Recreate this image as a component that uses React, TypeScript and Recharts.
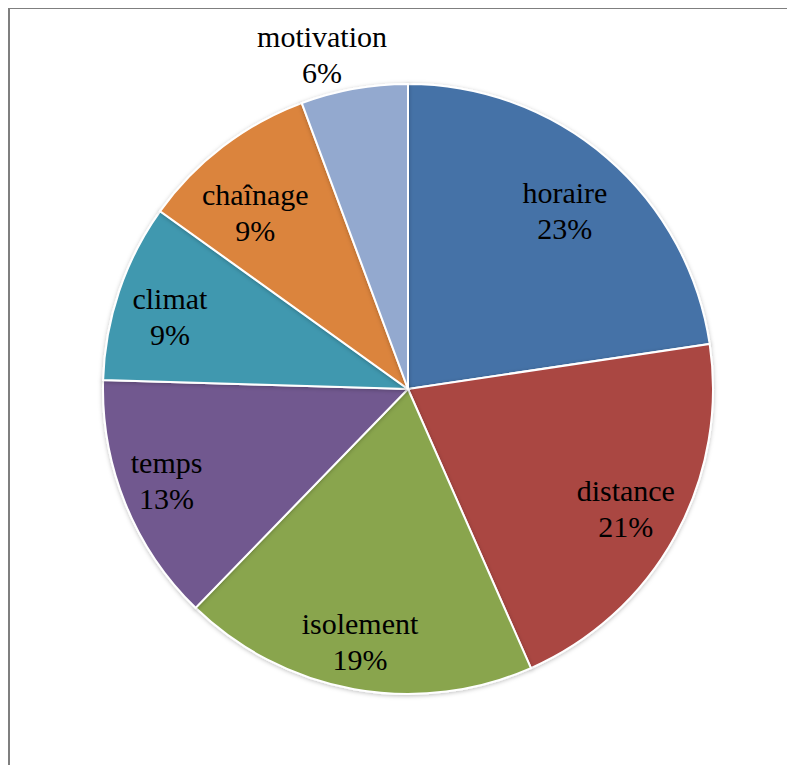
import React from "react";
import { PieChart, Pie, Cell } from "recharts";

const categories = ["horaire", "distance", "isolement", "temps", "climat", "chaînage", "motivation"];
const counts = [12, 11, 10, 7, 5, 5, 3];
const colors = ["#4572A7", "#AA4643", "#89A54E", "#71588F", "#4198AF", "#DB843D", "#93A9CF"];
// label placement (style): distance from centre as a fraction of the radius, and a small clockwise angle nudge in degrees
const labelRadius: Record<string, number> = {
  horaire: 0.78,
  distance: 0.813,
  isolement: 0.84,
  temps: 0.846,
  climat: 0.816,
  "chaînage": 0.767,
  motivation: 1.134,
};
const labelNudge: Record<string, number> = {
  horaire: 0.5,
  distance: -0.3,
  isolement: 0.6,
  temps: 1.4,
  climat: -1.7,
  "chaînage": -3.4,
  motivation: -4.2,
};

const data = categories.map((name, i) => ({ name, value: counts[i] }));
const RADIAN = Math.PI / 180;
const SERIF = "'Liberation Serif', 'Times New Roman', serif";
const FONT_SIZE = 30;

const renderLabel = (props: any) => {
  const { cx, cy, midAngle, outerRadius, name, percent } = props;
  const r = outerRadius * (labelRadius[name] ?? 0.8);
  const a = midAngle - (labelNudge[name] ?? 0);
  const x = cx + r * Math.cos(-a * RADIAN);
  const y = cy + r * Math.sin(-a * RADIAN);
  const textStyle = { fontFamily: SERIF, fontSize: FONT_SIZE };
  return (
    <g>
      <text x={x} y={y - 7} textAnchor="middle" fill="#000" fontFamily={SERIF} fontSize={FONT_SIZE} style={textStyle}>
        {name}
      </text>
      <text x={x} y={y + 29} textAnchor="middle" fill="#000" fontFamily={SERIF} fontSize={FONT_SIZE} style={textStyle}>
        {`${Math.round(percent * 100)}%`}
      </text>
    </g>
  );
};

export default function App() {
  return (
    <div style={{ position: "relative", width: 787, height: 757 }}>
      <PieChart width={787} height={757} margin={{ top: 0, right: 0, bottom: 0, left: 0 }} style={{ fontFamily: SERIF }}>
        <defs>
          <filter id="pieShadow" x="-10%" y="-10%" width="120%" height="120%">
            <feDropShadow dx="0" dy="1" stdDeviation="2" floodColor="#000" floodOpacity="0.25" />
          </filter>
        </defs>
        <Pie
          data={data}
          dataKey="value"
          nameKey="name"
          cx={400}
          cy={381}
          outerRadius={305}
          startAngle={90}
          endAngle={-270}
          stroke="#fff"
          strokeWidth={2}
          label={renderLabel}
          labelLine={false}
          isAnimationActive={false}
          style={{ filter: "url(#pieShadow)" }}
        >
          {data.map((d, i) => (
            <Cell key={d.name} fill={colors[i]} />
          ))}
        </Pie>
      </PieChart>
      <div
        style={{
          position: "absolute",
          left: 0,
          top: -1,
          right: -8,
          bottom: -8,
          borderTop: "2px solid #7f7f7f",
          borderLeft: "2px solid #7f7f7f",
          pointerEvents: "none",
        }}
      />
    </div>
  );
}
